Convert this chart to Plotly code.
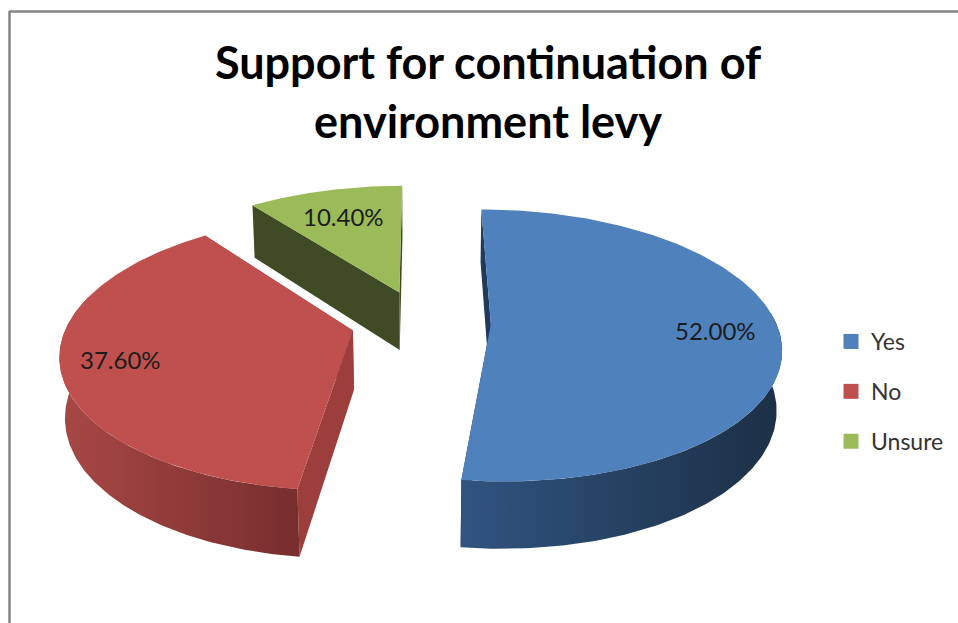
#!/usr/bin/env python3
"""Exploded 3D style pie: support for continuation of environment levy"""

import numpy as np
import plotly.graph_objects as go

categories = ["Yes", "No", "Unsure"]
shares = [52.0, 37.6, 10.4]
pct_labels = ["52.00%", "37.60%", "10.40%"]
top_colors = ["#4f81bd", "#c0504d", "#9bbb59"]
cut_colors = ["#1f3a5c", "#9c3f3c", "#3e4b24"]
wall_ramps = [("#305480", "#1c2f45"), ("#a84846", "#772e2d"), ("#9bbb59", "#3e4b24")]
label_radius = [0.78, 0.80, 0.72]

TITLE = "Support for continuation of<br>environment levy"

# pixel camera
X0, Y0 = 421, 322
RX, RY = 285, 132
PERSP = 0.157
EXPLODE = 0.245
DEPTH = 60
DEPTH_PERSP = 0.015


def project(t, r, mid, low=False):
    """Point at angle t (deg, clockwise from top), radius r, on a slice pulled along mid"""
    u = EXPLODE * np.sin(np.radians(mid)) + r * np.sin(np.radians(t))
    v = EXPLODE * np.cos(np.radians(mid)) + r * np.cos(np.radians(t))
    den = 1 + PERSP * v
    if low:
        den = den + DEPTH_PERSP
        return X0 + RX * u / den, Y0 + (DEPTH - RY * v) / den
    return X0 + RX * u / den, Y0 - RY * v / den


def polygon(name, xs, ys, color, ramp=None):
    trace = go.Scatter(
        x=xs,
        y=ys,
        mode="lines",
        fill="toself",
        line=dict(width=0, color=color),
        fillcolor=color,
        hoverinfo="skip",
        showlegend=False,
        name=name,
    )
    if ramp:
        trace.update(
            fillgradient=dict(
                type="horizontal",
                colorscale=[[0, ramp[0]], [1, ramp[1]]],
            )
        )
    return trace


fig = go.Figure()

# angles from the shares, slices run clockwise from the top
edges = np.cumsum([0] + shares) * 3.6
slices = []
for i in range(len(categories)):
    slices.append((i, edges[i], edges[i + 1], (edges[i] + edges[i + 1]) / 2))

# back to front so nearer slices cover the others
for i, a, b, mid in [slices[2], slices[1], slices[0]]:
    for t in (a, b):
        rim = project(t, 1, mid)
        rim_low = project(t, 1, mid, low=True)
        apex = project(t, 0, mid)
        apex_low = project(t, 0, mid, low=True)
        fig.add_trace(
            polygon(
                categories[i] + " cut",
                [apex[0], rim[0], rim_low[0], apex_low[0], apex[0]],
                [apex[1], rim[1], rim_low[1], apex_low[1], apex[1]],
                cut_colors[i],
            )
        )

    # outer wall, only the part that faces the viewer
    wa, wb = max(a, 85), min(b, 285)
    if wb > wa:
        ts = np.linspace(wa, wb, 120)
        tx, ty = project(ts, 1, mid)
        lx, ly = project(ts, 1, mid, low=True)
        fig.add_trace(
            polygon(
                categories[i] + " wall",
                np.concatenate([tx, lx[::-1], tx[:1]]),
                np.concatenate([ty, ly[::-1], ty[:1]]),
                top_colors[i],
                ramp=wall_ramps[i],
            )
        )

    ts = np.linspace(a, b, 160)
    tx, ty = project(ts, 1, mid)
    ax, ay = project(a, 0, mid)
    fig.add_trace(
        polygon(
            categories[i],
            np.concatenate([[ax], tx, [ax]]),
            np.concatenate([[ay], ty, [ay]]),
            top_colors[i],
        )
    )

# percentage labels
for i, a, b, mid in slices:
    lx, ly = project(mid, label_radius[i], mid)
    fig.add_annotation(
        x=lx,
        y=ly,
        text=pct_labels[i],
        showarrow=False,
        font=dict(family="Lato", size=24, color="#1c1c1c"),
    )

# legend entries
for i, name in enumerate(categories):
    fig.add_trace(
        go.Scatter(
            x=[None],
            y=[None],
            mode="markers",
            name=name,
            legendgroup=name,
            marker=dict(symbol="square", size=15, color=top_colors[i]),
        )
    )

fig.update_layout(
    width=958,
    height=623,
    margin=dict(l=0, r=0, t=0, b=0),
    paper_bgcolor="white",
    plot_bgcolor="white",
    xaxis=dict(range=[0, 958], visible=False, fixedrange=True),
    yaxis=dict(range=[623, 0], visible=False, fixedrange=True),
    title=dict(
        text=TITLE,
        x=488 / 958,
        xanchor="center",
        y=1 - 79 / 623,
        yanchor="middle",
        font=dict(family="Lato", size=45, color="#000000", weight="bold"),
    ),
    legend=dict(
        x=831 / 958,
        y=1 - 320 / 623,
        xanchor="left",
        yanchor="top",
        tracegroupgap=17,
        font=dict(family="Lato", size=23, color="#333333"),
        bgcolor="rgba(0,0,0,0)",
    ),
    shapes=[
        dict(type="line", x0=9.5, x1=9.5, y0=11, y1=623, line=dict(color="#868686", width=2.5)),
        dict(type="line", x0=9, x1=958, y0=11.5, y1=11.5, line=dict(color="#868686", width=2.5)),
    ],
)

fig.write_html(
    "out.html",
    config={"displayModeBar": False},
    post_script="document.body.style.margin='0';",
)
